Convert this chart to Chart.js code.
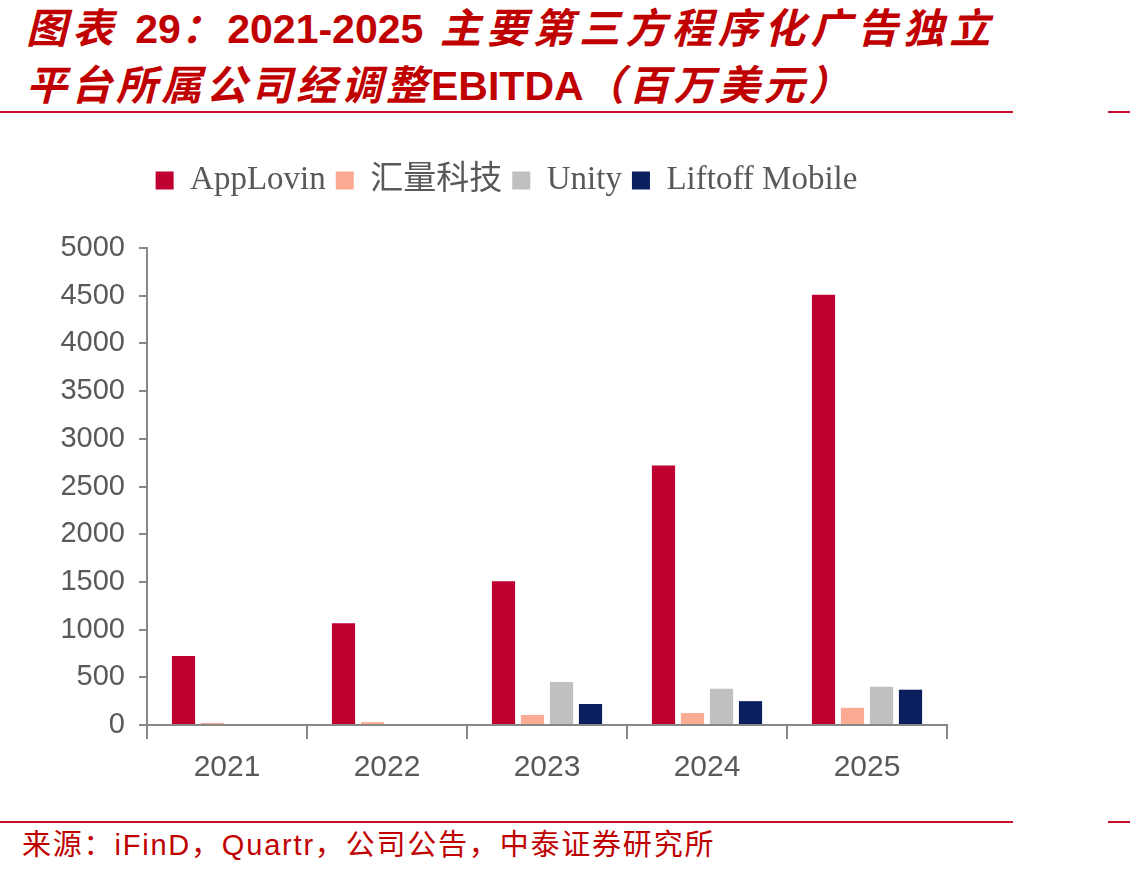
<!DOCTYPE html>
<html lang="zh">
<head>
<meta charset="UTF-8">
<title>EBITDA</title>
<script src="https://cdn.jsdelivr.net/npm/chart.js"></script>
<style>
  body { margin: 0; width: 1130px; height: 876px; background: #fff; position: relative; overflow: hidden; }
  .title { position: absolute; left: 26px; color: #c00000; font-family: "Liberation Sans", "Noto Sans CJK SC", sans-serif;
           font-weight: bold; font-style: italic; font-size: 41px; line-height: 44px; white-space: nowrap; letter-spacing: 4px; }
  .title .lat { letter-spacing: 0; font-style: normal; }
  .rule { position: absolute; height: 2px; background: #c8102e; }
  .source { position: absolute; left: 22px; top: 828px; color: #c00000; font-family: "Liberation Sans", "Noto Sans CJK SC", sans-serif;
            font-size: 29px; line-height: 34px; white-space: nowrap; letter-spacing: 1.8px; }
  #wrap { position: absolute; left: 0; top: 140px; width: 1012px; height: 660px; }
</style>
</head>
<body>
<div class="title" style="top:7px;letter-spacing:5.3px">图表 <span class="lat">29</span>：<span class="lat">2021-2025</span> 主要第三方程序化广告独立</div>
<div class="title" style="top:64px">平台所属公司经调整<span class="lat">EBITDA</span>（百万美元）</div>
<div class="rule" style="left:0;top:111px;width:1013px"></div>
<div class="rule" style="left:1108px;top:111px;width:22px"></div>
<div id="wrap"><canvas id="myChart"></canvas></div>
<div class="rule" style="left:0;top:821px;width:1013px"></div>
<div class="rule" style="left:1108px;top:821px;width:22px"></div>
<div class="source">来源：iFinD，Quartr，公司公告，中泰证券研究所</div>
<script>
  const years = ["2021", "2022", "2023", "2024", "2025"];
  const appLovin = [722, 1067, 1506, 2720, 4510];
  const mobvista = [22, 30, 105, 125, 180];
  const unity = [null, null, 450, 380, 400];
  const liftoff = [null, null, 220, 250, 370];
  const yTicks = [0, 500, 1000, 1500, 2000, 2500, 3000, 3500, 4000, 4500, 5000];

  // push the plot down below the legend, and nudge the legend right
  const legendGap = {
    id: "legendGap",
    beforeInit(chart) {
      const fit = chart.legend.fit;
      chart.legend.fit = function () {
        fit.bind(chart.legend)();
        this.height += 41;
      };
    },
    afterLayout(chart) {
      chart.legend.left += 33;
      chart.legend.right += 33;
    }
  };

  new Chart(document.getElementById("myChart"), {
    type: "bar",
    data: {
      labels: years,
      datasets: [
        { label: "AppLovin", data: appLovin, backgroundColor: "#c00030" },
        { label: "汇量科技", data: mobvista, backgroundColor: "#fbab94" },
        { label: "Unity", data: unity, backgroundColor: "#c0c0c0" },
        { label: "Liftoff Mobile", data: liftoff, backgroundColor: "#0b1f5e" }
      ]
    },
    options: {
      responsive: true,
      maintainAspectRatio: false,
      animation: false,
      layout: { padding: { top: 14, left: 0, right: 65, bottom: 0 } },
      datasets: { bar: { categoryPercentage: 0.725, barPercentage: 0.8 } },
      scales: {
        x: {
          grid: { display: true, drawOnChartArea: false, offset: true, color: "#888", tickLength: 14, lineWidth: 2 },
          border: { color: "#888", width: 2 },
          ticks: { color: "#595959", font: { family: "Liberation Sans, Arial", size: 30 }, padding: 11 },
          afterFit(scale) { scale.height = 75; }
        },
        y: {
          min: 0,
          max: 5000,
          afterBuildTicks(scale) { scale.ticks = yTicks.map(v => ({ value: v })); },
          grid: { display: true, drawOnChartArea: false, color: "#888", tickLength: 8, lineWidth: 2 },
          border: { color: "#888", width: 2 },
          ticks: {
            color: "#595959",
            font: { family: "Liberation Sans, Arial", size: 29 },
            padding: 14,
            callback: v => String(v)
          },
          afterFit(scale) { scale.width = 147; }
        }
      },
      plugins: {
        legend: {
          position: "top",
          labels: {
            boxWidth: 18,
            boxHeight: 18,
            padding: 10,
            color: "#595959",
            font: { family: "Liberation Serif, Noto Sans CJK SC", size: 33 }
          }
        },
        tooltip: { enabled: false }
      }
    },
    plugins: [legendGap]
  });
</script>
</body>
</html>
